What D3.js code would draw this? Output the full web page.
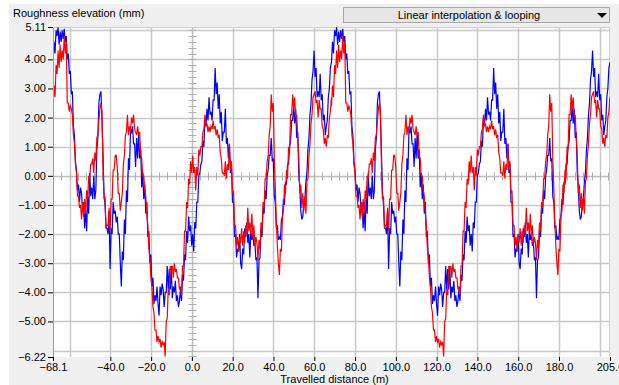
<!DOCTYPE html>
<html>
<head>
<meta charset="utf-8">
<script src="https://cdn.jsdelivr.net/npm/d3@7"></script>
<style>
  html, body { margin: 0; padding: 0; background: #ffffff; }
  svg { display: block; }
  text { font-family: "Liberation Sans", Arial, sans-serif; font-size: 11px; fill: #000; }
</style>
</head>
<body>
<svg id="chart" width="619" height="385"></svg>
<script>
// ---------------- data ----------------
const yAxisTitle = "Roughness elevation (mm)";
const xAxisTitle = "Travelled distance (m)";
const modeLabel = "Linear interpolation & looping";

const xDomain = [-68.1, 205.0];
const yDomain = [-6.22, 5.11];
const xTickValues = [-68.1, -40, -20, 0, 20, 40, 60, 80, 100, 120, 140, 160, 180, 205.0];
const yTickValues = [5.11, 4, 3, 2, 1, 0, -1, -2, -3, -4, -5, -6.22];
const xGridValues = [-60, -40, -20, 20, 40, 60, 80, 100, 120, 140, 160, 180, 200];
const yGridValues = [5, 4, 3, 2, 1, -1, -2, -3, -4, -5, -6];

// one loop of the profile, sampled every 0.5 m from the start distance
const profileStart = -68.1;
const sampleStep = 0.5;
const loopLength = 136.55;
const loopCount = 2;

const leftTrack = [
  3.9, 4.6, 4.2, 5.0, 4.8, 5.1, 4.5, 4.95, 4.6, 5.0,
  4.7, 5.05, 4.6, 4.8, 4.0, 4.2, 3.5, 3.6, 2.8, 2.9,
  1.7, 1.4, 0.5, 0.2, -0.5, -0.3, -0.9, -0.4, -0.6, -1.2,
  -0.9, -1.8, -1.2, -1.9, -0.7, -1.3, 0.1, -0.7, -0.4, -0.8,
  0.0, -0.8, -0.5, 0.9, 1.3, 2.5, 2.8, 2.9, 2.0, 0.8,
  -0.6, -1.0, -1.8, -1.8, -2.0, -1.2, -3.2, -1.8, -2.0, -0.9,
  -1.3, -1.2, -1.6, -1.4, -2.0, -2.0, -3.0, -3.8, -2.6, -2.9,
  -1.5, -2.0, -0.5, -0.9, 0.6, 0.2, 1.6, 1.5, 1.7, 1.1,
  1.1, 0.3, 1.3, 0.6, 1.5, 0.6, 0.9, -0.4, 0.1, -0.8,
  -0.3, -1.3, -0.9, -2.1, -1.9, -3.0, -2.7, -3.8, -3.5, -4.4,
  -4.1, -4.3, -3.8, -4.4, -4.8, -3.8, -4.1, -3.7, -3.9, -4.5,
  -4.0, -4.0, -3.1, -3.9, -3.2, -3.9, -3.1, -4.2, -3.8, -4.0,
  -3.6, -4.3, -4.1, -4.5, -4.3, -3.9, -4.3, -3.4, -3.6, -2.7,
  -2.9, -1.9, -2.3, -1.4, -1.9, -1.7, -2.4, -2.0, -2.6, -1.6,
  -1.8, -0.9, -0.9, 0.0, 0.1, 0.4, 0.5, 1.2, 1.0, 2.0,
  1.7, 2.3, 1.9, 2.7, 2.1, 2.2, 1.9, 2.6, 2.6, 3.7,
  2.8, 3.2, 2.3, 2.8, 1.8, 2.2, 1.2, 1.5, 1.5, 2.3,
  1.1, 1.3, 0.6, 1.1, 0.1, 0.4, -0.9, -0.9, -2.1, -2.0,
  -2.8, -2.5, -2.6, -2.0, -3.0, -3.2, -2.5, -2.7, -1.8, -2.1,
  -1.6, -2.3, -2.0, -2.8, -1.9, -2.2, -2.0, -2.4, -2.3, -2.9,
  -2.8, -4.2, -2.9, -2.8, -1.8, -2.1, -1.1, -1.3, -0.5, -0.8,
  0.0, 0.2, 0.7, 0.7, 1.3, 0.5, 0.6, -0.7, -0.9, -1.8,
  -1.7, -2.2, -2.1, -2.2, -1.5, -1.4, -0.8, -1.0, -0.2, -0.3,
  0.4, 0.4, 1.0, 1.2, 1.9, 1.9, 2.4, 1.8, 2.3, 1.3,
  1.5, 0.1, -0.4, -1.2, -1.5, -1.4, -0.9, -0.8, -0.2, 0.1,
  0.9, 1.3, 2.1, 2.5, 3.3, 3.6, 4.3, 3.4, 3.7, 2.7,
  2.9, 2.7, 3.5, 2.6, 2.8, 1.9, 2.1, 1.4, 1.7, 1.9,
  2.7, 3.0, 3.7, 3.9
];

const rightTrack = [
  2.4, 3.1, 2.7, 3.8, 3.5, 4.3, 3.7, 4.5, 3.9, 4.3,
  4.0, 4.8, 4.2, 4.6, 2.5, 2.5, 2.2, 2.4, 2.3, 2.1,
  1.4, 1.1, 0.4, 0.1, -0.7, -0.7, -1.1, -1.0, -1.5, -0.9,
  -1.4, -0.8, -1.3, -0.5, -0.8, 0.0, -0.1, 0.4, 0.4, 0.6,
  0.1, 0.8, 0.5, 1.3, 1.4, 1.9, 2.3, 2.5, 2.2, 0.3,
  -0.8, -0.7, -1.8, -1.7, -1.7, -1.1, -1.9, -0.8, -0.8, 0.2,
  0.2, 0.7, 0.7, 0.3, -0.6, -0.6, -1.2, -0.9, -0.6, 0.4,
  0.7, 1.4, 1.5, 2.1, 1.4, 1.7, 1.5, 2.0, 1.8, 2.1,
  1.6, 1.5, 1.4, 1.7, 1.4, 1.5, 0.7, 0.6, 0.0, 0.0,
  -0.5, -0.7, -1.3, -1.7, -2.5, -2.8, -3.5, -3.8, -4.5, -4.7,
  -5.3, -5.3, -5.7, -5.5, -5.7, -5.6, -5.9, -5.7, -5.8, -5.7,
  -6.2, -5.0, -4.9, -3.9, -4.1, -3.1, -3.2, -3.1, -3.5, -3.0,
  -3.3, -3.2, -3.5, -3.5, -3.9, -3.8, -4.1, -3.1, -3.1, -1.9,
  -1.9, -0.9, -1.1, -0.1, -0.3, 0.5, 0.1, 0.7, 0.1, 0.3,
  -0.5, 0.3, 0.0, 0.9, 0.7, 1.0, 1.0, 1.5, 1.6, 2.1,
  1.7, 1.8, 1.5, 1.7, 1.5, 1.7, 1.6, 1.9, 1.6, 1.7,
  1.4, 1.6, 1.3, 1.4, 0.8, 0.6, 0.1, 0.1, 0.0, 0.5,
  -0.1, 0.4, 0.2, 1.1, 0.2, 0.5, -0.6, -0.5, -1.7, -1.7,
  -2.4, -2.1, -2.6, -2.1, -2.3, -1.8, -2.4, -1.9, -2.3, -1.7,
  -2.0, -1.1, -1.9, -1.6, -2.0, -1.3, -2.1, -1.7, -2.4, -2.1,
  -2.3, -2.9, -2.2, -2.5, -1.6, -1.9, -0.9, -1.1, -0.1, -0.1,
  0.5, 0.7, 1.4, 1.7, 2.8, 2.2, 2.5, 0.6, -0.4, -1.6,
  -2.4, -3.0, -3.4, -2.5, -2.6, -1.4, -1.2, -0.3, -0.6, 0.2,
  -0.1, 1.0, 0.9, 2.1, 2.1, 2.8, 2.3, 2.7, 2.0, 2.1,
  1.3, 0.7, -0.6, -0.3, -1.1, -0.6, -1.2, -0.7, -1.3, -0.2,
  -0.1, 0.7, 1.1, 1.8, 2.1, 2.7, 2.8, 2.9, 2.5, 2.6,
  2.0, 2.6, 2.3, 2.3, 1.7, 1.6, 1.1, 1.3, 1.0, 1.4,
  1.3, 2.0, 2.2, 2.7
];

const seriesColors = { left: "#0000ff", right: "#ff0000" };

// ---------------- drawing ----------------
const svg = d3.select("#chart");
const plot = { left: 53, right: 610, top: 27, bottom: 357 };

const x = d3.scaleLinear().domain(xDomain).range([plot.left, plot.right]);
const y = d3.scaleLinear().domain(yDomain).range([plot.bottom, plot.top]);

// panel background
svg.append("rect").attr("x", 9).attr("y", 4).attr("width", 610).attr("height", 381).attr("fill", "#f0f0f0");

// plot area
svg.append("rect")
  .attr("x", plot.left).attr("y", plot.top)
  .attr("width", plot.right - plot.left).attr("height", plot.bottom - plot.top)
  .attr("fill", "#ffffff");

// grid
const grid = svg.append("g").attr("stroke", "#c8c8c8").attr("stroke-width", 1.5);
grid.selectAll("line.v").data(xGridValues).join("line")
  .attr("x1", d => Math.round(x(d)) + 0.5).attr("x2", d => Math.round(x(d)) + 0.5)
  .attr("y1", plot.top).attr("y2", plot.bottom);
grid.selectAll("line.h").data(yGridValues).join("line")
  .attr("y1", d => Math.round(y(d)) + 0.5).attr("y2", d => Math.round(y(d)) + 0.5)
  .attr("x1", plot.left).attr("x2", plot.right);

// plot frame (top / right light)
svg.append("line").attr("x1", plot.left).attr("x2", plot.right).attr("y1", plot.top + 0.5).attr("y2", plot.top + 0.5).attr("stroke", "#d0d0d0");
svg.append("line").attr("x1", plot.right - 0.5).attr("x2", plot.right - 0.5).attr("y1", plot.top).attr("y2", plot.bottom).attr("stroke", "#d0d0d0");

// zero cross-axes with small ticks
const zx = Math.round(x(0)) + 0.5, zy = Math.round(y(0)) + 0.5;
const zeroG = svg.append("g").attr("stroke", "#bdbdbd");
zeroG.append("line").attr("x1", zx).attr("x2", zx).attr("y1", plot.top).attr("y2", plot.bottom).attr("stroke-width", 1.5);
zeroG.append("line").attr("x1", plot.left).attr("x2", plot.right).attr("y1", zy).attr("y2", zy).attr("stroke-width", 1.5);
const vMinor = d3.range(-31, 26).map(k => k * 0.2).filter(v => v > yDomain[0] && v < yDomain[1]);
zeroG.selectAll("line.vm").data(vMinor).join("line")
  .attr("x1", zx - 4).attr("x2", zx + 4)
  .attr("y1", d => Math.round(y(d)) + 0.5).attr("y2", d => Math.round(y(d)) + 0.5)
  .attr("stroke", "#b0b0b0");
const hMinor = d3.range(-17, 52).map(k => k * 4).filter(v => v > xDomain[0] && v < xDomain[1]);
zeroG.selectAll("line.hm").data(hMinor).join("line")
  .attr("y1", zy - 4).attr("y2", zy + 4)
  .attr("x1", d => Math.round(x(d)) + 0.5).attr("x2", d => Math.round(x(d)) + 0.5)
  .attr("stroke", "#b0b0b0");

// series (profile repeated along the travelled distance)
function loopPoints(values) {
  const pts = [];
  for (let k = 0; k < loopCount; k++) {
    values.forEach((v, i) => {
      const xv = profileStart + k * loopLength + i * sampleStep;
      if (xv <= xDomain[1] + 1e-9) pts.push([xv, v]);
    });
  }
  return pts;
}
const line = d3.line().x(d => x(d[0])).y(d => y(d[1]));
svg.append("clipPath").attr("id", "clip").append("rect")
  .attr("x", plot.left).attr("y", plot.top).attr("width", plot.right - plot.left).attr("height", plot.bottom - plot.top);
const series = svg.append("g").attr("clip-path", "url(#clip)");
series.append("path").datum(loopPoints(leftTrack))
  .attr("d", line).attr("fill", "none").attr("stroke", seriesColors.left).attr("stroke-width", 1.2);
series.append("path").datum(loopPoints(rightTrack))
  .attr("d", line).attr("fill", "none").attr("stroke", seriesColors.right).attr("stroke-width", 1.2);

// left axis
const yAxis = d3.axisLeft(y).tickValues(yTickValues).tickSize(5).tickPadding(2)
  .tickFormat(d3.format(".2f"));
const yg = svg.append("g").attr("transform", `translate(${plot.left},0)`).call(yAxis);
yg.select(".domain").attr("stroke", "#a0a0a0");
yg.selectAll(".tick line").attr("stroke", "#000");
yg.selectAll("text").style("font-family", "Liberation Sans, Arial, sans-serif").style("font-size", "11px").attr("fill", "#000");

// bottom axis
const xAxis = d3.axisBottom(x).tickValues(xTickValues).tickSize(4).tickPadding(2)
  .tickFormat(d3.format(".1f"));
const xg = svg.append("g").attr("transform", `translate(0,${plot.bottom})`).call(xAxis);
xg.select(".domain").remove();
xg.selectAll(".tick line").attr("stroke", "#000");
xg.selectAll("text").style("font-family", "Liberation Sans, Arial, sans-serif").style("font-size", "11px").attr("fill", "#000");

// titles
svg.append("text").attr("x", 13).attr("y", 17).text(yAxisTitle);
svg.append("text").attr("x", (plot.left + plot.right) / 2 + 3).attr("y", 383).attr("text-anchor", "middle").text(xAxisTitle);

// mode dropdown
const dd = svg.append("g");
dd.append("rect").attr("x", 343.5).attr("y", 7.5).attr("width", 266).attr("height", 15)
  .attr("fill", "#e6e6e6").attr("stroke", "#a8a8a8");
dd.append("text").attr("x", 469).attr("y", 19).attr("text-anchor", "middle").text(modeLabel);
dd.append("path").attr("d", "M597,13 L607,13 L602,18 Z").attr("fill", "#000");
</script>
</body>
</html>
